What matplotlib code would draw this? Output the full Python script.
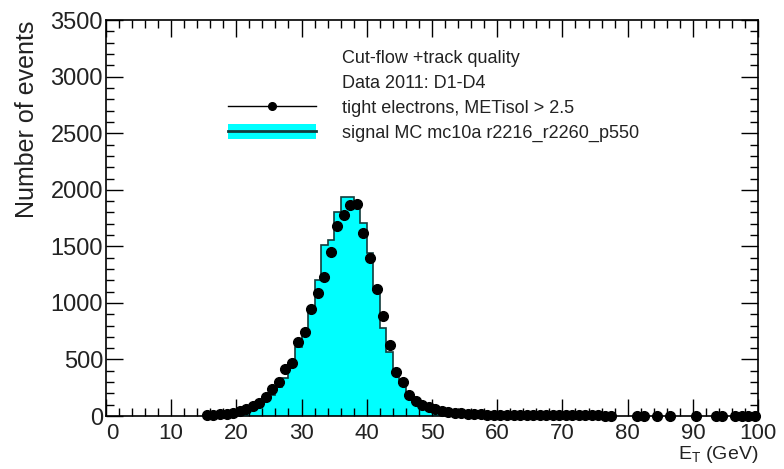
import numpy as np
import matplotlib
matplotlib.use('Agg')
import matplotlib.pyplot as plt
from matplotlib.lines import Line2D
from matplotlib.patches import Patch

plt.rcParams['font.family'] = ['Liberation Sans', 'DejaVu Sans']
plt.rcParams['mathtext.fontset'] = 'custom'
plt.rcParams['mathtext.rm'] = 'Liberation Sans'

# ── data (1 GeV bins) ──────────────────────────────
data_lo = 15
data_counts = [
    8, 10, 15, 22, 30, 45, 60, 85, 115, 165,            # 15-24
    240, 300, 415, 470, 650, 740, 950, 1090, 1230, 1450, # 25-34
    1680, 1780, 1865, 1875, 1620, 1395, 1120, 880, 630, 385,  # 35-44
    305, 185, 130, 100, 80, 62, 48, 38, 30, 24,          # 45-54
    20, 16, 14, 12, 11, 10, 10, 9, 9, 8,                 # 55-64
    8, 7, 7, 7, 6, 6, 6, 5, 5, 5,                        # 65-74
    5, 4, 4, np.nan, np.nan, np.nan, 3, 3, np.nan, 3,    # 75-84
    np.nan, 3, np.nan, np.nan, np.nan, 3, np.nan, np.nan, 3, 3,  # 85-94
    np.nan, 3, 3, 3, 3,                                  # 95-99
]

mc_lo = 15
mc_counts = [
    3, 6, 10, 15, 22, 32, 45, 65, 90, 130,               # 15-24
    185, 255, 340, 436, 613, 760, 950, 1205, 1512, 1556, # 25-34
    1806, 1933, 1933, 1890, 1703, 1438, 1114, 775, 568, 407,  # 35-44
    290, 190, 130, 90, 65, 48, 36, 27, 20, 15,           # 45-54
    11, 8, 6, 5, 4, 3, 3, 2, 2, 2,                       # 55-64
]

legend_header = ["Cut-flow +track quality", "Data 2011: D1-D4"]
data_label = "tight electrons, METisol > 2.5"
mc_label = "signal MC mc10a r2216_r2260_p550"

# ── plot ───────────────────────────────────────────
MC_FILL = '#00ffff'
MC_LINE = '#123c3c'
TXT = '#222222'

fig = plt.figure(figsize=(7.84, 4.69), dpi=100)
ax = fig.add_axes([0.135, 0.113, 0.832, 0.844])

mc_edges = np.arange(mc_lo, mc_lo + len(mc_counts) + 1)
ax.stairs(mc_counts, mc_edges, fill=True, color=MC_FILL, lw=0)
ax.stairs(mc_counts, mc_edges, color=MC_LINE, lw=1.2, baseline=0)

data_x = np.arange(data_lo, data_lo + len(data_counts)) + 0.5
ax.plot(data_x, data_counts, 'o', color='black', ms=7, zorder=5, clip_on=False)

ax.set_xlim(0, 100)
ax.set_ylim(0, 3500)
ax.set_xticks(np.arange(0, 101, 10))
ax.set_xticks(np.arange(0, 101, 2), minor=True)
ax.set_yticks(np.arange(0, 3501, 500))
ax.set_yticks(np.arange(0, 3501, 100), minor=True)
ax.tick_params(which='both', direction='in', top=True, right=True, width=1,
               labelsize=17, colors='black', labelcolor=TXT)
ax.tick_params(axis='x', labelsize=16, pad=5)
ax.tick_params(axis='y', pad=2)
ax.tick_params(which='major', length=12)
ax.tick_params(which='minor', length=6)
for s in ax.spines.values():
    s.set_linewidth(1.2)
# keep x "0" clear of the y "0" (ROOT puts them corner to corner)
ax.get_xticklabels()[0].set_horizontalalignment('left')

ax.set_xlabel(r'E$_{\mathrm{T}}$ (GeV)', fontsize=14, color=TXT, loc='right', labelpad=0)
ax.set_ylabel('Number of events', fontsize=18, color=TXT, loc='top', labelpad=8)

blank = Line2D([], [], linestyle='none')
data_h = Line2D([], [], color='black', lw=1, marker='o', ms=5.5)
mc_h = (Patch(facecolor=MC_FILL, edgecolor='none'), Line2D([], [], color=MC_LINE, lw=2))
leg = ax.legend([blank, blank, data_h, mc_h],
                legend_header + [data_label, mc_label],
                loc='upper left', bbox_to_anchor=(0.187, 0.928),
                frameon=False, fontsize=13, handlelength=4.9, handleheight=0.95,
                handletextpad=1.45, labelspacing=0.39, borderpad=0, borderaxespad=0)
for t in leg.get_texts():
    t.set_color(TXT)

fig.savefig('out.png', dpi=100)
